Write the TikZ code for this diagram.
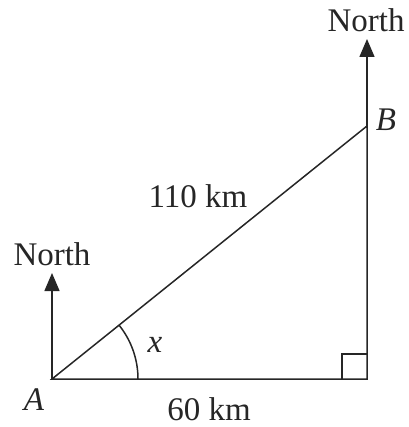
\documentclass[tikz,border=0pt]{standalone}
\usepackage{fontspec}
\setmainfont{Liberation Serif}
\usetikzlibrary{arrows.meta,calc}
\definecolor{ink}{HTML}{262626}
\begin{document}
\begin{tikzpicture}[x=1pt,y=-1pt,
  lbl/.style={inner sep=0pt,text=ink,font=\fontsize{33}{38}\selectfont},
  edge/.style={draw=ink,line width=1.5pt},
  northarrow/.style={draw=ink,line width=1.5pt,-{Triangle[length=18pt,width=15pt]}}]
\useasboundingbox (0,0) rectangle (408,427);
\coordinate (A) at (52,379);
\coordinate (C) at (367,379);
\coordinate (B) at (367,126);
\coordinate (NA) at (52,273);
\coordinate (NB) at (367,39);
\draw[edge] (A) -- (C) -- (B) -- cycle;
\draw[edge] ($(C)+(-25,0)$) -- ++(0,-25) -- ++(25,0);
\draw[edge] ($(A)+(86,0)$) arc[start angle=0,end angle=-38.77,radius=86];
\draw[northarrow] (A) -- (NA);
\draw[northarrow] (B) -- (NB);
\node[lbl] (nlA) at (52,254) {North};
\node[lbl] (nlB) at (366,20) {North};
\node[lbl] (la) at (34,400) {\itshape A};
\node[lbl] (lb) at (386,120) {\itshape B};
\node[lbl] (lx) at (155,345) {\itshape x};
\node[lbl] (l110) at (198,196) {110 km};
\node[lbl] (l60) at (209,409) {60 km};
\end{tikzpicture}
\end{document}
